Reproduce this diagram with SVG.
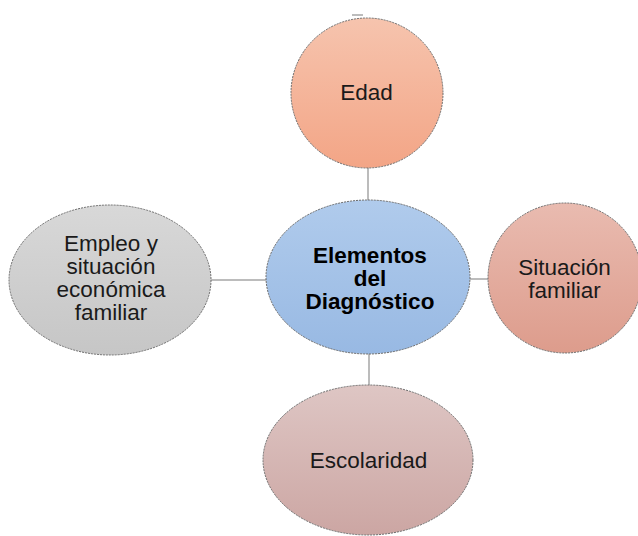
<svg xmlns="http://www.w3.org/2000/svg" width="638" height="536" viewBox="0 0 638 536">
<defs>
<linearGradient id="gEdad" x1="0" y1="0" x2="0" y2="1"><stop offset="0" stop-color="#f6c4ae"/><stop offset="1" stop-color="#f3a586"/></linearGradient>
<linearGradient id="gCenter" x1="0" y1="0" x2="0" y2="1"><stop offset="0" stop-color="#b0cbec"/><stop offset="1" stop-color="#98b9e3"/></linearGradient>
<linearGradient id="gSit" x1="0" y1="0" x2="0" y2="1"><stop offset="0" stop-color="#e9bbb0"/><stop offset="1" stop-color="#dd9c8c"/></linearGradient>
<linearGradient id="gEmp" x1="0" y1="0" x2="0" y2="1"><stop offset="0" stop-color="#d8d8d8"/><stop offset="1" stop-color="#c6c6c6"/></linearGradient>
<linearGradient id="gEsc" x1="0" y1="0" x2="0" y2="1"><stop offset="0" stop-color="#dec6c4"/><stop offset="1" stop-color="#cca6a3"/></linearGradient>
</defs>
<style>
.n{stroke:#6b6b6b;stroke-width:1;stroke-dasharray:2 1}
.c{stroke:#a6a6a6;stroke-width:1.5;fill:none}
.t{font-family:"Liberation Sans",Arial,sans-serif;font-size:22.5px;fill:#1a1a1a;text-anchor:middle}
.b{font-weight:bold;fill:#000}
</style>
<g id="connectors">
<line class="c" x1="368" y1="168" x2="368" y2="201"/>
<line class="c" x1="369" y1="353" x2="369" y2="386"/>
<line class="c" x1="469" y1="279" x2="488" y2="279"/>
<line class="c" x1="211" y1="280" x2="267" y2="280"/>
<line class="c" x1="352" y1="15" x2="363" y2="15"/>
</g>
<g id="edad">
<ellipse class="n" cx="367" cy="93" rx="76" ry="75" fill="url(#gEdad)"/>
<text class="t" x="366.5" y="100">Edad</text>
</g>
<g id="situacion">
<ellipse class="n" cx="565" cy="278" rx="77" ry="75" fill="url(#gSit)"/>
<text class="t" x="564.5" y="275">Situación</text>
<text class="t" x="564.5" y="298">familiar</text>
</g>
<g id="empleo">
<ellipse class="n" cx="110" cy="280" rx="101" ry="75" fill="url(#gEmp)"/>
<text class="t" x="111" y="251">Empleo y</text>
<text class="t" x="111" y="274">situación</text>
<text class="t" x="111" y="297">económica</text>
<text class="t" x="111" y="320">familiar</text>
</g>
<g id="escolaridad">
<ellipse class="n" cx="368" cy="460" rx="105" ry="75" fill="url(#gEsc)"/>
<text class="t" x="368.5" y="468">Escolaridad</text>
</g>
<g id="centro">
<ellipse class="n" cx="368" cy="277" rx="102" ry="77" fill="url(#gCenter)"/>
<text class="t b" x="370" y="262.8">Elementos</text>
<text class="t b" x="370" y="285.8">del</text>
<text class="t b" x="370" y="308.8">Diagnóstico</text>
</g>
</svg>
